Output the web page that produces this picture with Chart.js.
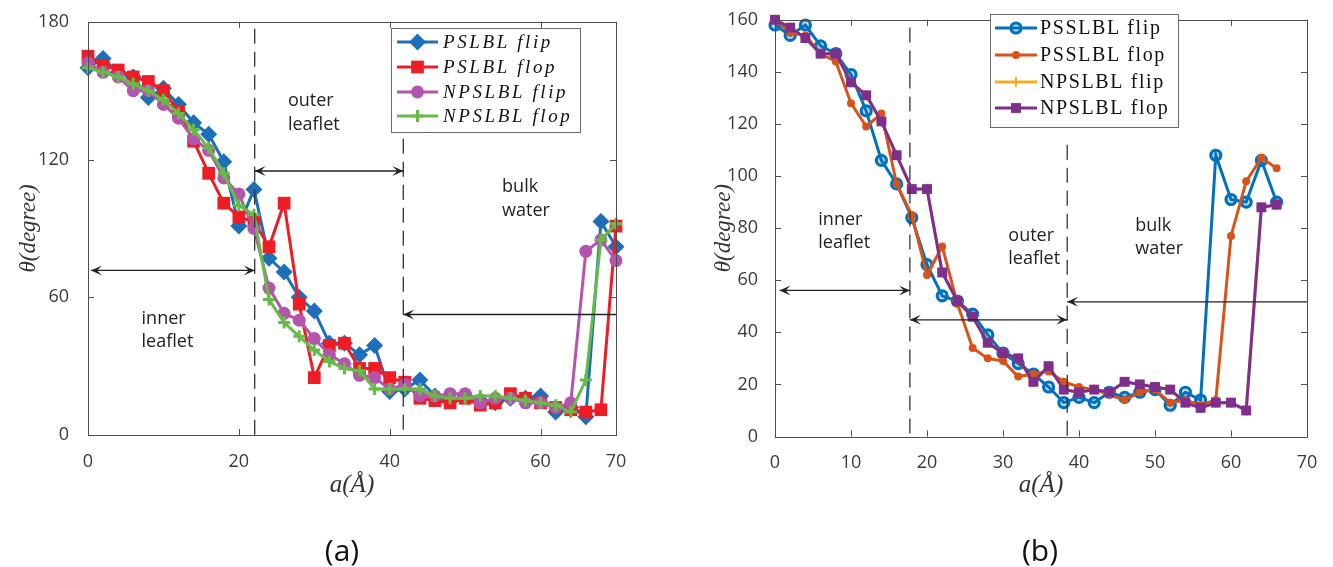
<!DOCTYPE html>
<html>
<head>
<meta charset="utf-8">
<script src="https://cdn.jsdelivr.net/npm/chart.js@4.4.1/dist/chart.umd.min.js"></script>
<style>
  body { margin: 0; background: #fff; width: 1333px; height: 567px; position: relative; overflow: hidden; }
  canvas { position: absolute; top: 0; }
  #chartA { left: 0; }
  #chartB { left: 666px; }
  .cap { position: absolute; top: 528px; width: 100px; text-align: center; font: 30px 'Open Sans'; line-height: 44px; color: #111; }
</style>
</head>
<body>
<canvas id="chartA" width="666" height="567"></canvas>
<canvas id="chartB" width="667" height="567"></canvas>
<div class="cap" style="left:292px">(a)</div>
<div class="cap" style="left:990px">(b)</div>
<script>
// ---- panel (a) ----
const xA = [0, 2, 4, 6, 8, 10, 12, 14, 16, 18, 20, 22, 24, 26, 28, 30, 32, 34,
            36, 38, 40, 42, 44, 46, 48, 50, 52, 54, 56, 58, 60, 62, 64, 66, 68, 70];
const psFlipA  = [160, 164, 158, 156, 147, 151, 144, 136, 131, 119, 91, 107, 77, 71, 60, 54, 40, 40,
                  35, 39, 19, 20, 24, 17, 15, 17, 15, 14, 16, 16, 17, 10, 12, 8, 93, 82];
const psFlopA  = [165, 161, 159, 156, 154, 150, 141, 128, 114, 101, 95, 93, 82, 101, 57, 25, 39, 40,
                  29, 29, 25, 23, 16, 15, 14, 16, 13, 14, 18, 16, 14, 12, 11, 10, 11, 91];
const npsFlipA = [162, 158, 156, 150, 150, 144, 138, 129, 124, 112, 105, 90, 64, 53, 50, 42, 35, 31,
                  26, 25, 20, 22, 17, 17, 18, 18, 14, 16, 16, 14, 14, 12, 14, 80, 85, 76];
const npsFlopA = [160, 158, 156, 153, 150, 146, 140, 133, 125, 114, 100, 96, 59, 49, 43, 37, 32, 29,
                  28, 20, 20, 20, 20, 17, 16, 16, 17, 17, 16, 15, 14, 13, 10, 24, 85, 92];
const labelsA = ['PSLBL flip', 'PSLBL flop', 'NPSLBL flip', 'NPSLBL flop'];
const xTicksA = [0, 20, 40, 60, 70];
const yTicksA = [0, 60, 120, 180];

// ---- panel (b) ----
const xB = [0, 2, 4, 6, 8, 10, 12, 14, 16, 18, 20, 22, 24, 26, 28, 30, 32,
            34, 36, 38, 40, 42, 44, 46, 48, 50, 52, 54, 56, 58, 60, 62, 64, 66];
const pssFlipB = [158, 154, 158, 150, 147, 139, 125, 106, 97, 84, 66, 54, 52, 47, 39, 32, 28,
                  24, 19, 13, 15, 13, 17, 15, 17, 18, 12, 17, 14, 108, 91, 90, 106, 90];
const pssFlopB = [160, 155, 154, 147, 144, 128, 119, 124, 97, 85, 62, 73, 51, 34, 30, 29, 23,
                  24, 25, 21, 19, 18, 16, 14, 17, 18, 13, 14, 12, 14, 77, 98, 107, 103];
const npsFlipB = [160, 157, 153, 147, 147, 136, 131, 121, 108, 95, 95, 63, 52, 46, 36, 32, 30,
                  21, 27, 18, 17, 18, 17, 21, 20, 19, 18, 13, 11, 13, 13, 10, 88, 89];
const npsFlopB = [160, 157, 153, 147, 147, 136, 131, 121, 108, 95, 95, 63, 52, 46, 36, 32, 30,
                  21, 27, 18, 17, 18, 17, 21, 20, 19, 18, 13, 11, 13, 13, 10, 88, 89];
const labelsB = ['PSSLBL flip', 'PSSLBL flop', 'NPSLBL flip', 'NPSLBL flop'];
const xTicksB = [0, 10, 20, 30, 40, 50, 60, 70];
const yTicksB = [0, 20, 40, 60, 80, 100, 120, 140, 160];

const tickFont = { family: 'Open Sans', size: 18 };
const tickColor = '#3a3a3a';

function pts(xs, ys) {
  return xs.map((x, i) => ({ x: x, y: ys[i] }));
}

function series(label, xs, ys, color, extra) {
  return Object.assign({
    label: label,
    data: pts(xs, ys),
    borderColor: color,
    backgroundColor: color,
    pointBackgroundColor: color,
    pointBorderColor: color,
    borderWidth: 3,
    pointBorderWidth: 0,
    tension: 0,
    clip: false
  }, extra);
}

function arrowHead(ctx, tx, ty, dir) {
  ctx.beginPath();
  ctx.moveTo(tx, ty);
  ctx.lineTo(tx - dir * 11, ty - 5);
  ctx.lineTo(tx - dir * 6, ty);
  ctx.lineTo(tx - dir * 11, ty + 5);
  ctx.closePath();
  ctx.fill();
}

// box, inward ticks, annotations, axis titles, legend
const decor = {
  id: 'decor',
  afterDraw(chart, args, o) {
    const { ctx, chartArea: a } = chart;
    const x = chart.scales.x, y = chart.scales.y;
    ctx.save();

    ctx.strokeStyle = '#4d4d4d';
    ctx.lineWidth = 1;
    ctx.beginPath();
    x.ticks.forEach(t => {
      const p = Math.round(x.getPixelForValue(t.value)) + 0.5;
      ctx.moveTo(p, a.bottom); ctx.lineTo(p, a.bottom - 6);
      ctx.moveTo(p, a.top); ctx.lineTo(p, a.top + 6);
    });
    y.ticks.forEach(t => {
      const p = Math.round(y.getPixelForValue(t.value)) + 0.5;
      ctx.moveTo(a.left, p); ctx.lineTo(a.left + 6, p);
      ctx.moveTo(a.right, p); ctx.lineTo(a.right - 6, p);
    });
    ctx.stroke();
    ctx.strokeRect(Math.round(a.left) + 0.5, Math.round(a.top) + 0.5,
                   Math.round(a.right - a.left), Math.round(a.bottom - a.top));

    // dashed region borders
    ctx.strokeStyle = '#333';
    ctx.lineWidth = 1.3;
    ctx.setLineDash([15, 8]);
    o.vlines.forEach(v => {
      const px = x.getPixelForValue(v.x);
      ctx.beginPath();
      ctx.moveTo(px, y.getPixelForValue(v.top));
      ctx.lineTo(px, a.bottom);
      ctx.stroke();
    });
    ctx.setLineDash([]);

    // arrows
    ctx.fillStyle = '#222';
    ctx.strokeStyle = '#222';
    ctx.lineWidth = 1.3;
    o.arrows.forEach(ar => {
      const x1 = x.getPixelForValue(ar.from), x2 = x.getPixelForValue(ar.to);
      const py = y.getPixelForValue(ar.y);
      ctx.beginPath();
      ctx.moveTo(x1, py); ctx.lineTo(x2, py);
      ctx.stroke();
      const dir = x2 > x1 ? 1 : -1;
      arrowHead(ctx, x2, py, dir);
      if (ar.both) arrowHead(ctx, x1, py, -dir);
    });

    // region labels
    ctx.font = '18px "Open Sans"';
    ctx.fillStyle = '#222';
    ctx.textAlign = 'left';
    ctx.textBaseline = 'middle';
    o.notes.forEach(n => {
      ctx.fillText(n.text, x.getPixelForValue(n.x), y.getPixelForValue(n.y));
    });

    // axis titles
    ctx.fillStyle = '#333';
    ctx.textAlign = 'center';
    ctx.font = 'italic 25px "Liberation Serif"';
    ctx.fillText(o.xTitle, (a.left + a.right) / 2, o.xTitleY);
    ctx.save();
    ctx.translate(o.yTitleX, (a.top + a.bottom) / 2);
    ctx.rotate(-Math.PI / 2);
    ctx.font = 'italic 23px "Liberation Serif"';
    ctx.fillText(o.yTitle, 0, 0);
    ctx.restore();

    // legend
    const lg = o.legend;
    ctx.fillStyle = '#fff';
    ctx.fillRect(lg.x, lg.y, lg.w, lg.h);
    ctx.strokeStyle = '#6a6a6a';
    ctx.lineWidth = 1;
    ctx.strokeRect(Math.round(lg.x) + 0.5, Math.round(lg.y) + 0.5, lg.w, lg.h);
    ctx.font = lg.font;
    ctx.letterSpacing = lg.spacing;
    ctx.textAlign = 'left';
    chart.data.datasets.forEach((ds, i) => {
      const ry = lg.rows[i];
      ctx.strokeStyle = ds.borderColor;
      ctx.lineWidth = ds.borderWidth;
      ctx.beginPath();
      ctx.moveTo(lg.x0, ry); ctx.lineTo(lg.x1, ry);
      ctx.stroke();
      ctx.fillStyle = ds.pointBackgroundColor;
      ctx.strokeStyle = ds.pointBorderColor;
      ctx.lineWidth = ds.pointBorderWidth;
      Chart.helpers.drawPoint(ctx, {
        pointStyle: ds.pointStyle, radius: ds.pointRadius,
        borderWidth: ds.pointBorderWidth, rotation: 0
      }, (lg.x0 + lg.x1) / 2, ry);
      ctx.fillStyle = '#111';
      ctx.fillText(ds.label, lg.textX, ry + 1);
    });
    ctx.letterSpacing = '0px';
    ctx.restore();
  }
};

function axes(xTicks, yTicks, xMax, yMax, yWidth, xHeight, yPad) {
  return {
    x: {
      type: 'linear', min: 0, max: xMax,
      grid: { display: false }, border: { display: false },
      ticks: { font: tickFont, color: tickColor, padding: 8, maxRotation: 0 },
      afterBuildTicks: s => { s.ticks = xTicks.map(v => ({ value: v })); },
      afterFit: s => { s.height = xHeight; }
    },
    y: {
      type: 'linear', min: 0, max: yMax,
      grid: { display: false }, border: { display: false },
      ticks: { font: tickFont, color: tickColor, padding: yPad },
      afterBuildTicks: s => { s.ticks = yTicks.map(v => ({ value: v })); },
      afterFit: s => { s.width = yWidth; }
    }
  };
}

new Chart(document.getElementById('chartA'), {
  type: 'line',
  data: {
    datasets: [
      series(labelsA[0], xA, psFlipA, '#1c6fb8', { pointStyle: 'rectRot', pointRadius: 8.5, order: 3 }),
      series(labelsA[1], xA, psFlopA, '#ee1c25', { pointStyle: 'rect', pointRadius: 9, order: 2 }),
      series(labelsA[2], xA, npsFlipA, '#b455ad', { pointStyle: 'circle', pointRadius: 6.5, order: 1 }),
      series(labelsA[3], xA, npsFlopA, '#67bb47', { pointStyle: 'cross', pointRadius: 6, pointBorderWidth: 3, order: 0 })
    ]
  },
  options: {
    responsive: false, animation: false, devicePixelRatio: 1,
    layout: { padding: { left: 0, top: 21, right: 50, bottom: 0 } },
    scales: axes(xTicksA, yTicksA, 70, 180, 88, 132, 11),
    plugins: {
      legend: { display: false },
      tooltip: { enabled: false },
      decor: {
        xTitle: 'a(Å)', xTitleY: 485,
        yTitle: 'θ(degree)', yTitleX: 29,
        vlines: [{ x: 22.1, top: 177 }, { x: 41.8, top: 129 }],
        arrows: [
          { from: 0.4, to: 22.1, y: 71.7, both: true },
          { from: 22.1, to: 41.8, y: 115, both: true },
          { from: 70, to: 41.8, y: 52.5, both: false }
        ],
        notes: [
          { text: 'outer', x: 26.5, y: 145.5 }, { text: 'leaflet', x: 26.5, y: 135.2 },
          { text: 'inner', x: 7.1, y: 50.8 }, { text: 'leaflet', x: 7.1, y: 40.5 },
          { text: 'bulk', x: 54.9, y: 107.9 }, { text: 'water', x: 54.9, y: 97.7 }
        ],
        legend: {
          x: 391, y: 28, w: 189, h: 104, rows: [42, 67, 92, 116],
          x0: 397, x1: 438, textX: 443,
          font: 'italic 19px "Liberation Serif"', spacing: '2.6px'
        }
      }
    }
  },
  plugins: [decor]
});

new Chart(document.getElementById('chartB'), {
  type: 'line',
  data: {
    datasets: [
      series(labelsB[0], xB, pssFlipB, '#0072bd', { pointStyle: 'circle', pointRadius: 5, pointBorderWidth: 3.2, pointBackgroundColor: 'rgba(0,114,189,0.25)', order: 3 }),
      series(labelsB[1], xB, pssFlopB, '#d95319', { pointStyle: 'circle', pointRadius: 4, order: 2 }),
      series(labelsB[2], xB, npsFlipB, '#edb120', { pointStyle: 'cross', pointRadius: 5, pointBorderWidth: 2, order: 1 }),
      series(labelsB[3], xB, npsFlopB, '#7e2f8e', { pointStyle: 'rect', pointRadius: 7, order: 0 })
    ]
  },
  options: {
    responsive: false, animation: false, devicePixelRatio: 1,
    layout: { padding: { left: 0, top: 14, right: 26, bottom: 0 } },
    scales: axes(xTicksB, yTicksB, 70, 160, 109, 130.5, 9),
    plugins: {
      legend: { display: false },
      tooltip: { enabled: false },
      decor: {
        xTitle: 'a(Å)', xTitleY: 485,
        yTitle: 'θ(degree)', yTitleX: 58,
        vlines: [{ x: 17.75, top: 157 }, { x: 38.45, top: 112 }],
        arrows: [
          { from: 0.6, to: 17.75, y: 56.1, both: true },
          { from: 17.75, to: 38.45, y: 44.8, both: true },
          { from: 70, to: 38.45, y: 51.7, both: false }
        ],
        notes: [
          { text: 'inner', x: 5.7, y: 83.3 }, { text: 'leaflet', x: 5.7, y: 74.4 },
          { text: 'outer', x: 30.7, y: 77 }, { text: 'leaflet', x: 30.7, y: 68.1 },
          { text: 'bulk', x: 47.4, y: 80.8 }, { text: 'water', x: 47.4, y: 71.9 }
        ],
        legend: {
          x: 324, y: 14, w: 188, h: 113, rows: [28, 55, 82, 108],
          x0: 329, x1: 371, textX: 374,
          font: '20px "Liberation Serif"', spacing: '1.6px'
        }
      }
    }
  },
  plugins: [decor]
});
</script>
</body>
</html>
